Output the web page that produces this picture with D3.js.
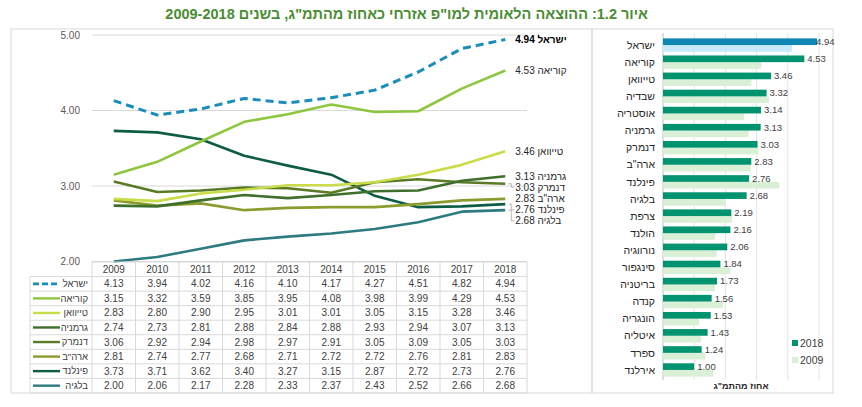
<!DOCTYPE html>
<html lang="he">
<head>
<meta charset="utf-8">
<script src="https://cdn.jsdelivr.net/npm/d3@7"></script>
<style>
  html, body { margin: 0; padding: 0; background: #fff; }
  svg { display: block; font-family: "Liberation Sans", Arial, sans-serif; }
</style>
</head>
<body>
<div id="chart"></div>
<script>
// line chart + table data
const years = [2009, 2010, 2011, 2012, 2013, 2014, 2015, 2016, 2017, 2018];
const lineNames = ["ישראל", "קוריאה", "טייוואן", "גרמניה", "דנמרק", "ארה\"ב", "פינלנד", "בלגיה"];
const israel = [4.13, 3.94, 4.02, 4.16, 4.10, 4.17, 4.27, 4.51, 4.82, 4.94];
const korea = [3.15, 3.32, 3.59, 3.85, 3.95, 4.08, 3.98, 3.99, 4.29, 4.53];
const taiwan = [2.83, 2.80, 2.90, 2.95, 3.01, 3.01, 3.05, 3.15, 3.28, 3.46];
const germany = [2.74, 2.73, 2.81, 2.88, 2.84, 2.88, 2.93, 2.94, 3.07, 3.13];
const denmark = [3.06, 2.92, 2.94, 2.98, 2.97, 2.91, 3.05, 3.09, 3.05, 3.03];
const usa = [2.81, 2.74, 2.77, 2.68, 2.71, 2.72, 2.72, 2.76, 2.81, 2.83];
const finland = [3.73, 3.71, 3.62, 3.40, 3.27, 3.15, 2.87, 2.72, 2.73, 2.76];
const belgium = [2.00, 2.06, 2.17, 2.28, 2.33, 2.37, 2.43, 2.52, 2.66, 2.68];
const yTicks = [2, 3, 4, 5];

// bar chart data
const barCountries = ["ישראל", "קוריאה", "טייוואן", "שבדיה", "אוסטריה", "גרמניה", "דנמרק", "ארה\"ב", "פינלנד", "בלגיה",
  "צרפת", "הולנד", "נורווגיה", "סינגפור", "בריטניה", "קנדה", "הונגריה", "איטליה", "ספרד", "אירלנד"];
const bar2018 = [4.94, 4.53, 3.46, 3.32, 3.14, 3.13, 3.03, 2.83, 2.76, 2.68, 2.19, 2.16, 2.06, 1.84, 1.73, 1.56, 1.53, 1.43, 1.24, 1.00];
const bar2009 = [4.13, 3.15, 2.83, 3.40, 2.60, 2.74, 3.06, 2.81, 3.73, 2.00, 2.21, 1.67, 1.72, 2.16, 1.67, 1.92, 1.15, 1.22, 1.36, 1.61];
const barTicks = [1, 2, 3, 4, 5];

const lineColors = ["#1a8dbb", "#8dc63f", "#cadc4a", "#3f6f2c", "#5a7a26", "#8c9b2e", "#0d5c45", "#2d7b80"];
const series = lineNames.map((name, i) => ({
  name: name,
  values: [israel, korea, taiwan, germany, denmark, usa, finland, belgium][i],
  color: lineColors[i],
  dashed: i === 0
}));

const W = 862, H = 407;
const svg = d3.select("#chart").append("svg").attr("width", W).attr("height", H);

// title
svg.append("text")
  .attr("x", 648).attr("y", 19)
  .attr("direction", "rtl")
  .attr("text-anchor", "start")
  .attr("font-size", 14.5).attr("font-weight", "bold")
  .attr("fill", "#4a8c33")
  .text("איור 1.2: ההוצאה הלאומית למו\"פ אזרחי כאחוז מהתמ\"ג, בשנים 2009-2018");

// panel frames
svg.append("rect").attr("x", 11).attr("y", 29).attr("width", 581).attr("height", 364)
  .attr("fill", "none").attr("stroke", "#d9d9d9");
svg.append("rect").attr("x", 592).attr("y", 29).attr("width", 241).attr("height", 364)
  .attr("fill", "none").attr("stroke", "#d9d9d9");

// ---------- line chart ----------
const x = d3.scaleBand().domain(years).range([92, 527]);
const y = d3.scaleLinear().domain([2, 5]).range([261.5, 35]);
const cx = d => x(d) + x.bandwidth() / 2;

const grid = svg.append("g");
grid.selectAll("line").data(yTicks).enter().append("line")
  .attr("x1", 92).attr("x2", 527)
  .attr("y1", d => y(d)).attr("y2", d => y(d))
  .attr("stroke", "#d9d9d9");
grid.selectAll("text").data(yTicks).enter().append("text")
  .attr("x", 80).attr("y", d => y(d))
  .attr("dy", "0.35em")
  .attr("text-anchor", "end")
  .attr("font-size", 10).attr("fill", "#595959")
  .text(d3.format(".2f"));

const line = d3.line()
  .x((d, i) => cx(years[i]))
  .y(d => y(d));

// draw back to front so Israel ends on top
svg.append("g").selectAll("path").data(series.slice().reverse()).enter().append("path")
  .attr("d", d => line(d.values))
  .attr("fill", "none")
  .attr("stroke", d => d.color)
  .attr("stroke-width", d => d.dashed ? 3 : 2.6)
  .attr("stroke-dasharray", d => d.dashed ? "8,5" : null)
  .attr("stroke-linejoin", "round");

// end labels with simple collision push
const ends = series.map(s => ({ s: s, v: s.values[s.values.length - 1] }))
  .sort((a, b) => b.v - a.v);
let lastY = -Infinity;
ends.forEach(e => {
  e.y0 = y(e.v);
  e.ly = Math.max(e.y0, lastY + 11);
  lastY = e.ly;
});
const lastX = cx(years[years.length - 1]);
const endG = svg.append("g");
endG.selectAll("path").data(ends.filter(e => e.ly - e.y0 > 2)).enter().append("path")
  .attr("d", e => `M${lastX + 3},${e.y0}H${lastX + 6}V${e.ly}H${lastX + 9}`)
  .attr("fill", "none").attr("stroke", "#a6a6a6").attr("stroke-width", 0.8);
endG.selectAll("text").data(ends).enter().append("text")
  .attr("x", lastX + 10).attr("y", e => e.ly)
  .attr("dy", "0.35em")
  .attr("font-size", 10)
  .attr("font-weight", e => e.s.dashed ? "bold" : null)
  .attr("fill", e => e.s.dashed ? "#000" : "#262626")
  .text(e => d3.format(".2f")(e.v) + " " + e.s.name);

// ---------- data table ----------
const tTop = 262, rowH = 14.55;
const table = svg.append("g").attr("font-size", 10).attr("fill", "#404040");
const rowY = k => tTop + k * rowH;

// horizontal rules
table.append("line").attr("x1", 92).attr("x2", 527).attr("y1", rowY(0)).attr("y2", rowY(0)).attr("stroke", "#d9d9d9");
d3.range(1, series.length + 2).forEach(k => {
  table.append("line").attr("x1", 30).attr("x2", 527)
    .attr("y1", rowY(k)).attr("y2", rowY(k)).attr("stroke", "#d9d9d9");
});
// vertical rules
table.append("line").attr("x1", 30).attr("x2", 30).attr("y1", rowY(1)).attr("y2", rowY(series.length + 1)).attr("stroke", "#d9d9d9");
years.concat([null]).forEach((yr, j) => {
  const xx = 92 + j * x.bandwidth();
  table.append("line").attr("x1", xx).attr("x2", xx)
    .attr("y1", rowY(0)).attr("y2", rowY(series.length + 1)).attr("stroke", "#d9d9d9");
});
// header
table.selectAll("text.yr").data(years).enter().append("text")
  .attr("class", "yr")
  .attr("x", d => cx(d)).attr("y", rowY(0.5))
  .attr("dy", "0.35em").attr("text-anchor", "middle")
  .text(d => d);
// rows
series.forEach((s, i) => {
  const ry = rowY(i + 1.5);
  table.append("line")
    .attr("x1", 33).attr("x2", 60).attr("y1", ry).attr("y2", ry)
    .attr("stroke", s.color).attr("stroke-width", s.dashed ? 2.6 : 2.4)
    .attr("stroke-dasharray", s.dashed ? "6,3" : null);
  table.append("text")
    .attr("x", 88).attr("y", ry).attr("dy", "0.35em")
    .attr("text-anchor", "end").attr("font-size", 9.5)
    .text(s.name);
  table.selectAll(null).data(s.values).enter().append("text")
    .attr("x", (d, j) => cx(years[j])).attr("y", ry)
    .attr("dy", "0.35em").attr("text-anchor", "middle")
    .text(d3.format(".2f"));
});

// ---------- bar chart ----------
const bx = d3.scaleLinear().domain([0, 5]).range([663, 819]);
const by = d3.scaleBand().domain(barCountries).range([36.5, 378.5]).paddingInner(0.22).paddingOuter(0.11);
const sub = d3.scaleBand().domain(["2018", "2009"]).range([0, by.bandwidth()]);

const bars = svg.append("g");
bars.selectAll("line.g").data(barTicks).enter().append("line")
  .attr("class", "g")
  .attr("x1", d => bx(d)).attr("x2", d => bx(d))
  .attr("y1", 33).attr("y2", 380)
  .attr("stroke", "#e3e3e3");
bars.append("line").attr("x1", bx(0)).attr("x2", bx(0)).attr("y1", 33).attr("y2", 380)
  .attr("stroke", "#bfbfbf");

const rows = barCountries.map((c, i) => ({ c: c, v18: bar2018[i], v09: bar2009[i], hi: i === 0 }));
bars.selectAll("rect.b09").data(rows).enter().append("rect")
  .attr("class", "b09")
  .attr("x", bx(0)).attr("y", d => by(d.c) + sub("2009"))
  .attr("width", d => bx(d.v09) - bx(0)).attr("height", sub.bandwidth())
  .attr("fill", d => d.hi ? "#c6eafa" : "#d9efd6");
bars.selectAll("rect.b18").data(rows).enter().append("rect")
  .attr("class", "b18")
  .attr("x", bx(0)).attr("y", d => by(d.c) + sub("2018"))
  .attr("width", d => bx(d.v18) - bx(0)).attr("height", sub.bandwidth())
  .attr("fill", d => d.hi ? "#0f86b4" : "#00936f");
bars.selectAll("text.v").data(rows).enter().append("text")
  .attr("class", "v")
  .attr("x", d => Math.min(bx(d.v18) + 3, bx(5) - 3))
  .attr("y", d => by(d.c) + sub("2018") + sub.bandwidth() / 2)
  .attr("dy", "0.35em")
  .attr("font-size", 9.5).attr("fill", "#404040")
  .text(d => d3.format(".2f")(d.v18));
bars.selectAll("text.c").data(rows).enter().append("text")
  .attr("class", "c")
  .attr("x", 655).attr("y", d => by(d.c) + by.bandwidth() / 2)
  .attr("dy", "0.35em").attr("text-anchor", "end")
  .attr("font-size", 10.5).attr("fill", "#262626")
  .text(d => d.c);

svg.append("text")
  .attr("x", bx(2.5)).attr("y", 389)
  .attr("text-anchor", "middle")
  .attr("font-size", 9).attr("font-weight", "bold").attr("fill", "#262626")
  .text("אחוז מהתמ\"ג");

// legend
const legend = svg.append("g").attr("font-size", 10.5).attr("fill", "#404040");
[["2018", "#00936f"], ["2009", "#d9efd6"]].forEach((d, i) => {
  legend.append("rect").attr("x", 792).attr("y", 340 + i * 17).attr("width", 6).attr("height", 6).attr("fill", d[1]);
  legend.append("text").attr("x", 800).attr("y", 343 + i * 17).attr("dy", "0.35em").text(d[0]);
});
</script>
</body>
</html>
